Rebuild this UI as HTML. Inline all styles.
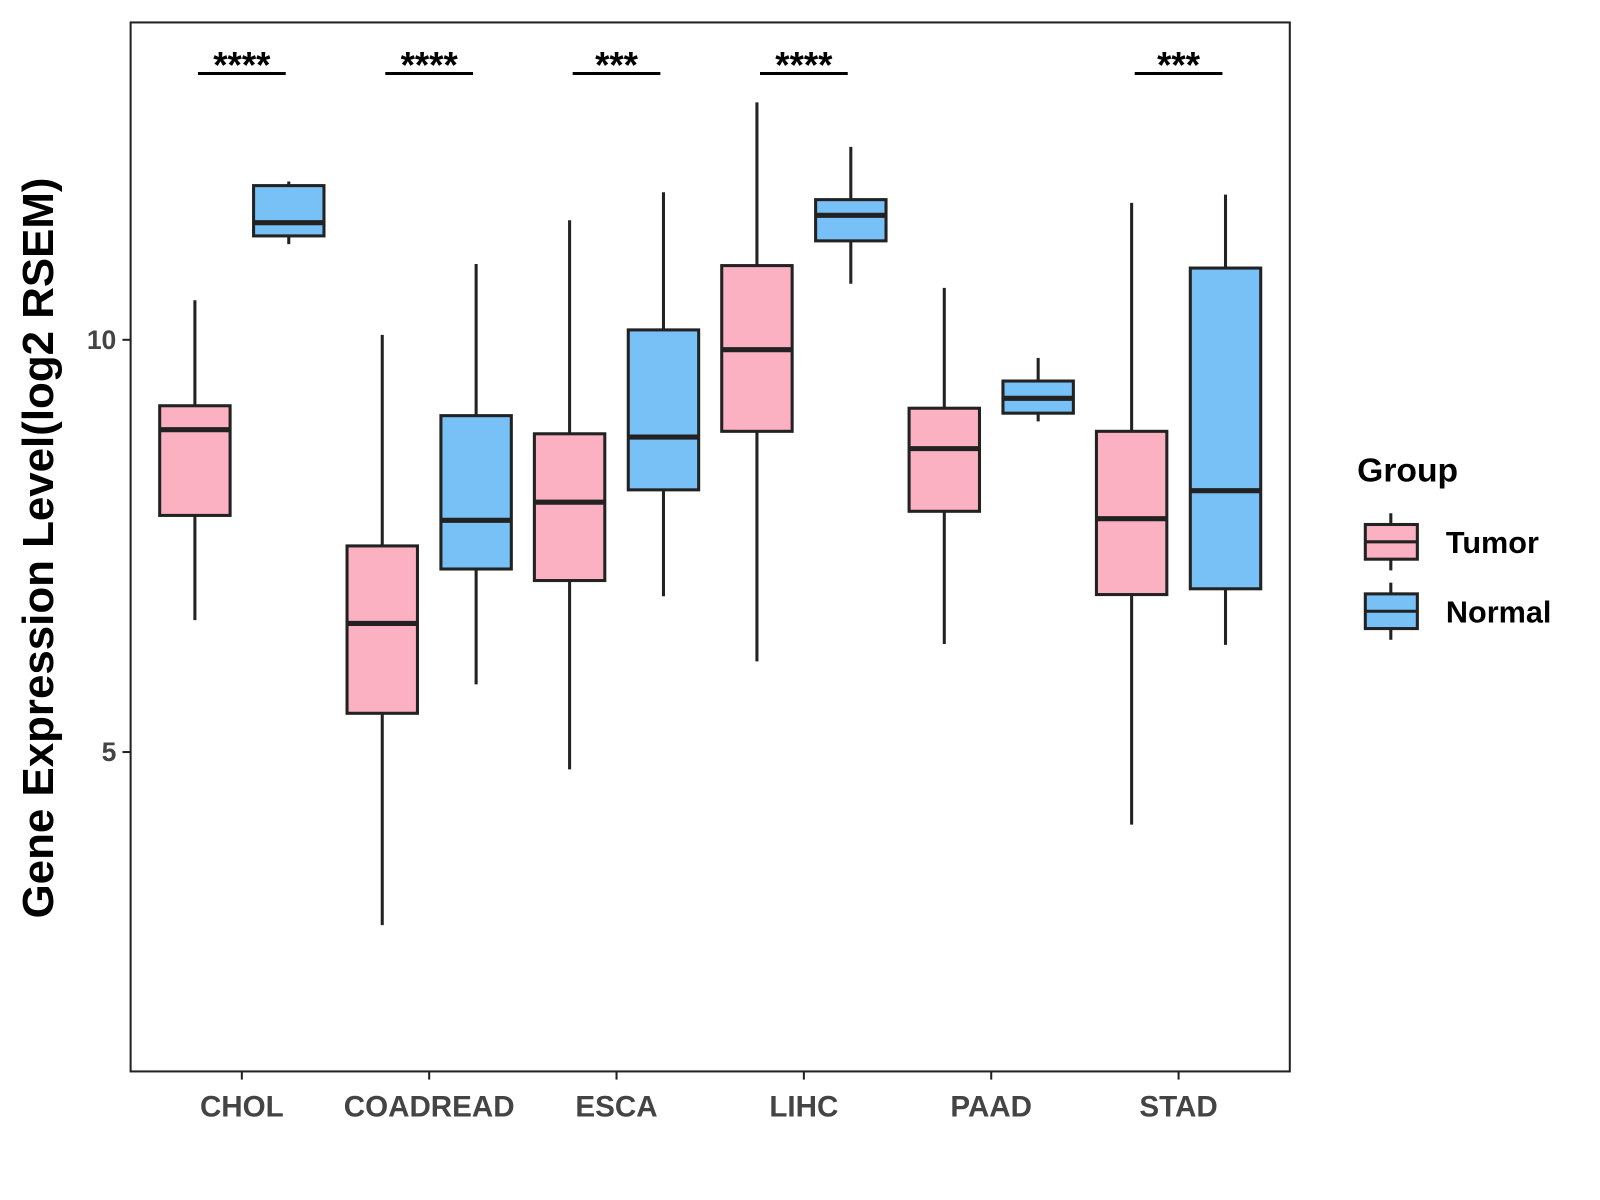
<!DOCTYPE html>
<html><head><meta charset="utf-8"><style>
html,body{margin:0;padding:0;background:#fff;}
svg{display:block;font-family:"Liberation Sans",Arial,sans-serif;}
</style></head><body>
<svg id="chart" width="1600" height="1200" viewBox="0 0 1568 1176">
<rect x="128" y="22" width="1136" height="1028" fill="#fff" stroke="#222" stroke-width="2"/>
<g id="marks"></g>
<text transform="translate(52,537) rotate(-90)" text-anchor="middle" font-size="43" font-weight="bold" fill="#000">Gene Expression Level(log2 RSEM)</text>
<g>
<text x="1330" y="472" font-size="33" font-weight="bold">Group</text>
<g>
<line x1="1363" y1="503" x2="1363" y2="559" stroke="#222" stroke-width="3"/>
<rect x="1338" y="514" width="51" height="34" fill="#FBB1C1" stroke="#222" stroke-width="3"/>
<line x1="1338" y1="531" x2="1389" y2="531" stroke="#222" stroke-width="3"/>
<text x="1417" y="542" font-size="30" font-weight="bold">Tumor</text></g>
<g>
<line x1="1363" y1="571" x2="1363" y2="627" stroke="#222" stroke-width="3"/>
<rect x="1338" y="582" width="51" height="34" fill="#77C1F7" stroke="#222" stroke-width="3"/>
<line x1="1338" y1="599" x2="1389" y2="599" stroke="#222" stroke-width="3"/>
<text x="1417" y="610" font-size="30" font-weight="bold">Normal</text></g>
</g>
</svg>
<script>
const categories=["CHOL","COADREAD","ESCA","LIHC","PAAD","STAD"];
const tumorStats=[[6.60,7.87,8.91,9.20,10.48],[2.90,5.47,6.56,7.50,10.06],[4.79,7.08,8.03,8.86,11.45],[6.10,8.89,9.88,10.90,12.88],[6.31,7.92,8.68,9.17,10.63],[4.12,6.91,7.83,8.89,11.66]];
const normalStats=[[11.16,11.26,11.42,11.87,11.92],[5.82,7.22,7.81,9.08,10.92],[6.89,8.18,8.82,10.12,11.79],[10.68,11.20,11.51,11.70,12.34],[9.01,9.11,9.29,9.50,9.78],[6.30,6.98,8.17,10.87,11.76]];
const signif=["****","****","***","****","","***"];
const yTicks=[5,10];
const NS="http://www.w3.org/2000/svg";
const g=document.getElementById("marks");
function y(v){return 333+(10-v)*80.8;}
function x(i){return 237+i*183.6;}
function el(t,a){const e=document.createElementNS(NS,t);for(const k in a)e.setAttribute(k,a[k]);g.appendChild(e);return e;}
yTicks.forEach(t=>{
 const l=el("line",{x1:120,x2:128,y1:y(t),y2:y(t),stroke:"#222","stroke-width":2});
 
 
 const tx=el("text",{x:114,y:y(t)+9,"text-anchor":"end","font-size":26,"font-weight":"bold",fill:"#444"});
 tx.textContent=t;
 
 
});
function box(s,cx,fill,name){
 const w=69;
 const wl=el("line",{x1:cx,x2:cx,y1:y(s[4]),y2:y(s[0]),stroke:"#222","stroke-width":3});
 
 
 const r=el("rect",{x:cx-w/2,y:y(s[3]),width:w,height:y(s[1])-y(s[3]),fill:fill,stroke:"#222","stroke-width":3});
 
 
 const m=el("line",{x1:cx-w/2,x2:cx+w/2,y1:y(s[2]),y2:y(s[2]),stroke:"#222","stroke-width":5});
 
 
}
categories.forEach((c,i)=>{
 const cx=x(i);
 box(tumorStats[i],cx-46,"#FBB1C1","tumor-"+c.toLowerCase());
 box(normalStats[i],cx+46,"#77C1F7","normal-"+c.toLowerCase());
 const tk=el("line",{x1:cx,x2:cx,y1:1050,y2:1058,stroke:"#222","stroke-width":2});
 
 
 const t=el("text",{x:cx,y:1094,"text-anchor":"middle","font-size":29,"font-weight":"bold",fill:"#444"});
 t.textContent=c;
 
 
 if(signif[i]){
  const b=el("line",{x1:cx-43,x2:cx+43,y1:72,y2:72,stroke:"#000","stroke-width":3});
  
  
  const s=el("text",{x:cx,y:76,"text-anchor":"middle","font-size":36,"font-weight":"bold",fill:"#000"});
  s.textContent=signif[i];
  
  
 }
});
</script>
</body></html>
